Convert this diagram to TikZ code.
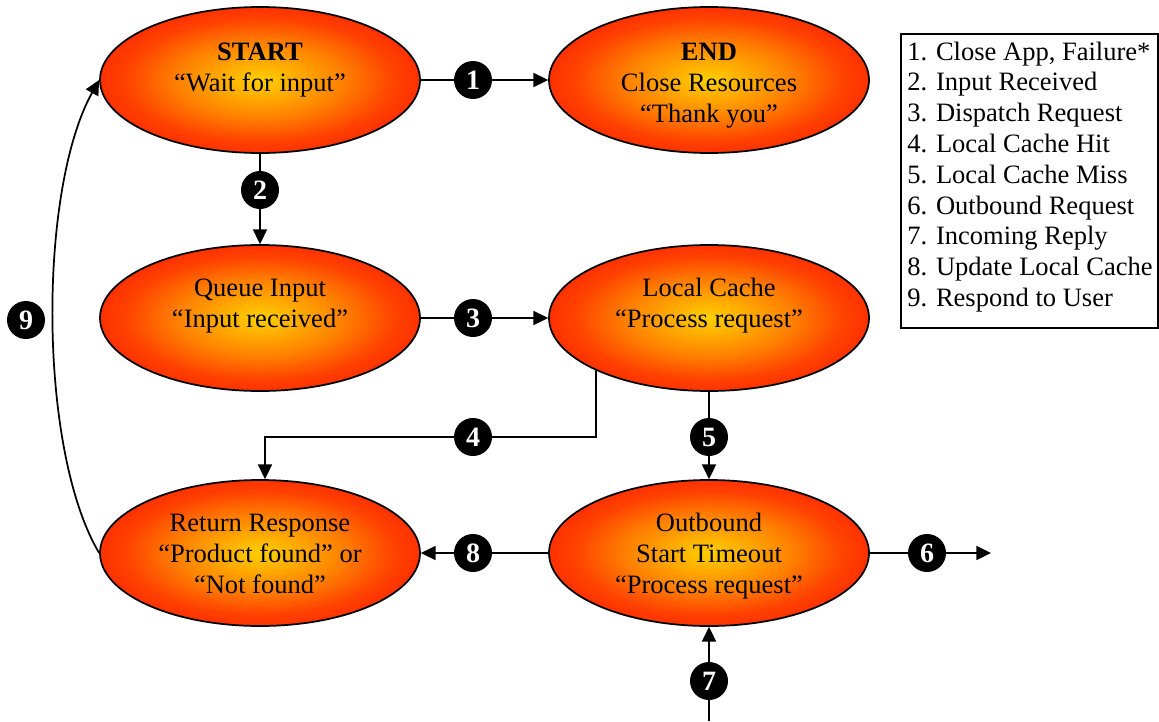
\documentclass[tikz,border=0pt]{standalone}
\usepackage{fontspec}
\setmainfont{Liberation Serif}
\usetikzlibrary{arrows.meta,shapes.geometric,calc}
\definecolor{fc0}{HTML}{FFD000}
\definecolor{fc1}{HTML}{FFB800}
\definecolor{fc2}{HTML}{FF8000}
\definecolor{fc3}{HTML}{FF4200}
\definecolor{fc4}{HTML}{FF2400}
\definecolor{fc5}{HTML}{FF1A00}
\pgfdeclareradialshading{flame}{\pgfpoint{0bp}{0bp}}{color(0bp)=(fc0); color(4bp)=(fc1); color(13bp)=(fc2); color(21bp)=(fc3); color(28bp)=(fc4); color(35bp)=(fc5); color(100bp)=(fc5)}
\tikzset{
  ell/.style={ellipse, draw=black, line width=1.3pt, shading=flame, minimum width=240pt, minimum height=109.5pt, inner sep=0pt},
  txt/.style={align=center, font=\fontsize{19.9}{23.1}\selectfont, anchor=base, inner sep=0pt},
  badge/.style={circle, fill=black, minimum size=28.5pt, inner sep=0pt, text=white, font=\fontsize{21}{21}\selectfont\bfseries},
  conn/.style={line width=1.3pt},
  arr/.style={conn, -{Triangle[length=11pt,width=10.5pt]}},
  leg/.style={anchor=base west, font=\fontsize{19.9}{23.1}\selectfont, inner sep=0pt}
}
\begin{document}
\begin{tikzpicture}[x=0.75pt,y=-0.75pt]
\useasboundingbox (0,0) rectangle (1159,721);
% states
\node[ell] (start) at (260,80) {};
\node[ell] (end) at (709,80) {};
\node[ell] (queue) at (260,318) {};
\node[ell] (lc) at (709,318) {};
\node[ell] (ret) at (260,553) {};
\node[ell] (out) at (709,553) {};
% texts (base = baseline of last line)
\node[txt] (tstart) at (260,91) {\textbf{START}\\“Wait for input”};
\node[txt] (tend) at (709,122) {\textbf{END}\\Close Resources\\“Thank you”};
\node[txt] (tqueue) at (260,327) {Queue Input\\“Input received”};
\node[txt] (tlc) at (709,327) {Local Cache\\“Process request”};
\node[txt] (tret) at (260,593) {Return Response\\“Product found” or\\“Not found”};
\node[txt] (tout) at (709,593) {Outbound\\Start Timeout\\“Process request”};
% badges
\node[badge] (b1) at (473,80) {1};
\node[badge] (b2) at (260,190) {2};
\node[badge] (b3) at (473,318) {3};
\node[badge] (b4) at (473,437) {4};
\node[badge] (b5) at (709,437) {5};
\node[badge] (b6) at (927,553) {6};
\node[badge] (b7) at (709,681) {7};
\node[badge] (b8) at (473,553) {8};
\node[badge] (b9) at (26,320) {9};
\coordinate (e6) at (991,553);
\coordinate (s7) at (709,721);
\coordinate (s4) at (596,369);
\coordinate (c4) at (596,437);
% connectors
\draw[arr] (start) -- (b1) -- (end);
\draw[arr] (start) -- (b2) -- (queue);
\draw[arr] (queue) -- (b3) -- (lc);
\draw[conn] (s4) -- (c4) -- (b4);
\draw[arr] (b4) -| ([xshift=3.75pt]ret.north);
\draw[arr] (lc) -- (b5) -- (out);
\draw[arr] (out) -- (b6) -- (e6);
\draw[arr] (s7) -- (b7) -- (out);
\draw[arr] (out) -- (b8) -- (ret);
\draw[arr] (ret.west) .. controls (38,450) and (38,190) .. (start.west);
% legend
\draw[line width=1.1pt] (901,34) rectangle (1158,328);
\node[leg] (l1) at (907,60) {1. Close App, Failure*};
\node[leg] (l2) at (907,90.8) {2. Input Received};
\node[leg] (l3) at (907,121.6) {3. Dispatch Request};
\node[leg] (l4) at (907,152.4) {4. Local Cache Hit};
\node[leg] (l5) at (907,183.2) {5. Local Cache Miss};
\node[leg] (l6) at (907,214) {6. Outbound Request};
\node[leg] (l7) at (907,244.8) {7. Incoming Reply};
\node[leg] (l8) at (907,275.6) {8. Update Local Cache};
\node[leg] (l9) at (907,306.4) {9. Respond to User};
\end{tikzpicture}
\end{document}
